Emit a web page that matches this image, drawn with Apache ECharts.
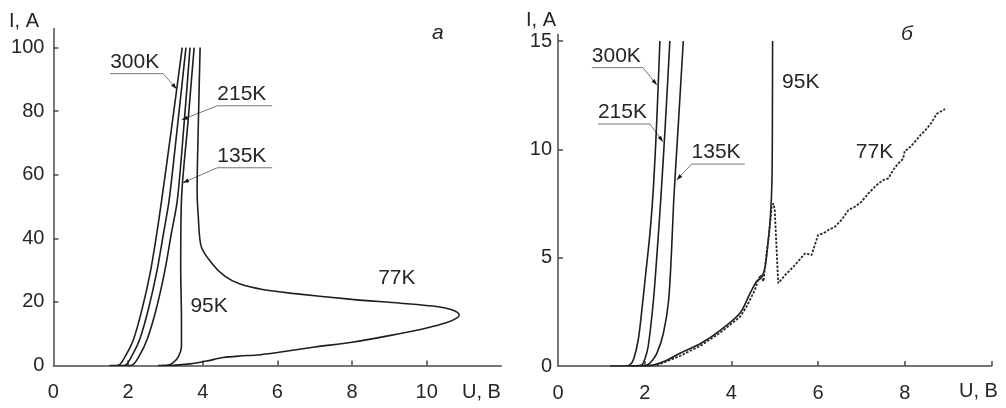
<!DOCTYPE html>
<html>
<head>
<meta charset="utf-8">
<script src="https://cdn.jsdelivr.net/npm/echarts@6/dist/echarts.min.js"></script>
<style>
html, body { margin: 0; background: #fff; }
#main { width: 1006px; height: 408px; }
</style>
</head>
<body>
<div id="main"></div>
<script>
'use strict';

// panel "а" : [U, V ; I, A]
const a300K = [[1.5, 0], [1.74, 0.1], [1.92, 2.8], [2.14, 8], [2.37, 17.5], [2.59, 29], [2.77, 41.6], [2.9, 52], [3.18, 76], [3.45, 100]];
const a215K = [[1.7, 0], [1.92, 0.1], [2.1, 3], [2.32, 8.5], [2.55, 18], [2.77, 29.5], [2.95, 41.6], [3.1, 52], [3.33, 76], [3.55, 100]];
const a135K = [[1.9, 0], [2.1, 0.1], [2.3, 3], [2.52, 8.5], [2.76, 18], [2.98, 29.5], [3.16, 41.6], [3.32, 52], [3.5, 76], [3.66, 100]];
const a95K = [[2.8, 0], [3.05, 0.1], [3.2, 0.8], [3.35, 2.8], [3.43, 6], [3.43, 15], [3.41, 30], [3.43, 52], [3.6, 76], [3.77, 100]];
const a77K = [[3.93, 100], [3.88, 75], [3.85, 55], [3.88, 47], [3.96, 37.4], [4.24, 32.2], [4.6, 28], [5.0, 25.6], [5.6, 23.9],
	[6.4, 22.7], [8.0, 20.8], [9.3, 19.6], [10.3, 18.5], [10.65, 17.6], [10.82, 16.7], [10.87, 15.9], [10.8, 14.9],
	[10.54, 13.5], [10.0, 11.8], [9.0, 9.4], [8.0, 7.3], [7.0, 5.8], [6.0, 4.1], [5.45, 3.3], [5.0, 3.0], [4.55, 2.5],
	[4.1, 1.4], [3.66, 0.5], [3.2, 0.05], [2.9, 0]];

// panel "б"
const b300K = [[1.2, 0], [1.55, 0], [1.66, 0.05], [1.75, 0.35], [1.85, 1.2], [1.93, 2.5], [2.02, 4.2], [2.12, 6.1], [2.2, 8.2], [2.28, 11.4], [2.35, 15]];
const b215K = [[1.6, 0], [1.93, 0.05], [2.0, 0.3], [2.08, 0.9], [2.2, 3.0], [2.29, 5.35], [2.37, 7.66], [2.48, 11.3], [2.58, 15]];
const b135K = [[1.7, 0], [2.05, 0.05], [2.15, 0.2], [2.28, 0.58], [2.43, 1.5], [2.55, 3.0], [2.62, 5.35], [2.67, 7.66], [2.78, 11.3], [2.89, 15]];
const b95K = [[1.9, 0], [2.2, 0.05], [2.5, 0.25], [2.8, 0.58], [3.3, 1.05], [3.75, 1.66], [4.2, 2.45], [4.43, 3.35], [4.58, 3.9],
	[4.7, 4.1], [4.78, 4.6], [4.85, 5.8], [4.9, 6.9], [4.935, 8.5], [4.945, 11], [4.95, 15]];
const b77K = [[2.0, 0], [2.3, 0.05], [2.8, 0.45], [3.3, 0.95], [3.75, 1.55], [4.2, 2.27], [4.35, 2.74], [4.54, 3.5], [4.62, 4.0],
	[4.68, 4.2], [4.74, 3.9], [4.78, 3.85], [4.81, 5.2], [4.87, 6.1], [4.93, 7.35], [4.97, 7.5], [5.0, 7.2], [5.04, 5.5],
	[5.08, 3.82], [5.12, 3.82], [5.24, 4.2], [5.43, 4.58], [5.7, 5.2], [5.85, 5.12], [6.0, 6.05], [6.12, 6.12], [6.24, 6.28],
	[6.39, 6.43], [6.54, 6.74], [6.7, 7.2], [6.85, 7.35], [7.0, 7.58], [7.16, 7.97], [7.35, 8.35], [7.5, 8.58], [7.62, 8.66],
	[7.73, 9.04], [7.84, 9.33], [7.96, 9.56], [8.0, 9.94], [8.07, 10.0], [8.19, 10.25], [8.35, 10.63], [8.5, 10.94],
	[8.62, 11.24], [8.73, 11.63], [8.93, 11.86]];

// axis ticks / labels
const xTicksA = [2, 4, 6, 8, 10];
const xLabelsA = [0, 2, 4, 6, 8, 10];
const yTicksA = [20, 40, 60, 80, 100];
const yLabelsA = [0, 20, 40, 60, 80, 100];
const xTicksB = [2, 4, 6, 8, 10];
const xLabelsB = [0, 2, 4, 6, 8];
const yTicksB = [5, 10, 15];
const yLabelsB = [0, 5, 10, 15];

// leader labels: text, grid, underline [U0, U1, I], tip [U, I], elbow side
const leaderText = ['300K', '215K', '135K', '300K', '215K', '135K'];
const leaderGrid = [0, 0, 0, 1, 1, 1];
const leaderLine = [[1.52, 2.94, 91.8], [4.39, 5.86, 81.7], [4.39, 5.86, 62.2], [0.78, 1.96, 13.77], [0.92, 2.12, 11.17], [3.08, 4.31, 9.32]];
const leaderTip = [[3.30, 87.0], [3.44, 77.3], [3.47, 57.5], [2.28, 12.97], [2.42, 10.35], [2.74, 8.58]];
const leaderSide = ['right', 'left', 'left', 'right', 'right', 'left'];

// free labels: text, grid, centre [U, I]
const noteText = ['95K', '77K', 'а', '95K', '77K', 'б'];
const noteGrid = [0, 0, 0, 1, 1, 1];
const notePos = [[4.17, 18.6], [9.2, 27.6], [10.3, 104.5], [5.6, 13.1], [7.3, 9.85], [8.05, 15.3]];

const FONT = '"Liberation Sans", Arial, sans-serif';
const INK = '#1e1e1e';
const TXT = '#262626';
const FS = 20;

const axisCommon = (ticks, labels, margin) => ({
	type: 'value',
	axisLine: { show: true, onZero: false, lineStyle: { color: '#4a4a4a', width: 1.5 } },
	axisTick: { show: true, inside: true, length: 5, customValues: ticks, lineStyle: { color: '#4a4a4a', width: 1.5 } },
	axisLabel: { customValues: labels, margin: margin, fontSize: FS, color: TXT, fontFamily: FONT },
	splitLine: { show: false }
});

const curve = (data, xi, dashed) => ({
	type: 'line',
	xAxisIndex: xi,
	yAxisIndex: xi,
	data: data,
	showSymbol: false,
	symbol: 'none',
	smooth: dashed ? false : 0.3,
	lineStyle: dashed ? { color: '#2a2a2a', width: 1.8, type: [2.5, 1.5] } : { color: INK, width: 1.6 },
	silent: true
});

const chart = echarts.init(document.getElementById('main'), null, { renderer: 'canvas' });

chart.setOption({
	animation: false,
	textStyle: { fontFamily: FONT },
	grid: [
		{ left: 53.4, top: 28.5, width: 448, height: 337 },
		{ left: 558, top: 34.5, width: 433.5, height: 331.5 }
	],
	xAxis: [
		Object.assign(axisCommon(xTicksA, xLabelsA, 17), { gridIndex: 0, min: 0, max: 12 }),
		Object.assign(axisCommon(xTicksB, xLabelsB, 17), { gridIndex: 1, min: 0, max: 10 })
	],
	yAxis: [
		Object.assign(axisCommon(yTicksA, yLabelsA, 9), { gridIndex: 0, min: 0, max: 106 }),
		Object.assign(axisCommon(yTicksB, yLabelsB, 6), { gridIndex: 1, min: 0, max: 15.3 })
	],
	series: [
		curve(a300K, 0), curve(a215K, 0), curve(a135K, 0), curve(a95K, 0), curve(a77K, 0),
		curve(b300K, 1), curve(b215K, 1), curve(b135K, 1), curve(b95K, 1), curve(b77K, 1, true)
	]
});

// annotations placed through the axes
const toPx = (g, p) => chart.convertToPixel({ gridIndex: g }, p);
const els = [];

leaderText.forEach((txt, k) => {
	const g = leaderGrid[k];
	const [u0, u1, i] = leaderLine[k];
	const p0 = toPx(g, [u0, i]);
	const p1 = toPx(g, [u1, i]);
	const tip = toPx(g, leaderTip[k]);
	const elbow = leaderSide[k] === 'right' ? p1 : p0;
	els.push({
		type: 'polyline',
		shape: { points: [p0, p1] },
		style: { stroke: '#777', lineWidth: 1, fill: null }
	});
	els.push({
		type: 'polyline',
		shape: { points: [elbow, tip] },
		style: { stroke: '#777', lineWidth: 1, fill: null }
	});
	// arrow head
	const dx = tip[0] - elbow[0], dy = tip[1] - elbow[1];
	const len = Math.hypot(dx, dy), ux = dx / len, uy = dy / len;
	const bx = tip[0] - ux * 6, by = tip[1] - uy * 6;
	els.push({
		type: 'polygon',
		shape: { points: [tip, [bx - uy * 2, by + ux * 2], [bx + uy * 2, by - ux * 2]] },
		style: { fill: '#111' }
	});
	els.push({
		type: 'text',
		x: p0[0],
		y: p0[1] - 1,
		style: { text: txt, font: '21px ' + FONT, fill: TXT, textAlign: 'left', textVerticalAlign: 'bottom' }
	});
});

noteText.forEach((txt, k) => {
	const p = toPx(noteGrid[k], notePos[k]);
	const italic = txt === 'а' || txt === 'б';
	els.push({
		type: 'text',
		x: p[0],
		y: p[1],
		style: {
			text: txt,
			font: (italic ? 'italic ' : '') + '21px ' + FONT,
			fill: TXT,
			textAlign: 'center',
			textVerticalAlign: 'middle'
		}
	});
});

// axis names
els.push({ type: 'text', x: 9, y: 21, style: { text: 'I, A', font: FS + 'px ' + FONT, fill: TXT, textVerticalAlign: 'middle' } });
els.push({ type: 'text', x: 526, y: 20, style: { text: 'I, A', font: FS + 'px ' + FONT, fill: TXT, textVerticalAlign: 'middle' } });
els.push({ type: 'text', x: 462, y: 392, style: { text: 'U, B', font: FS + 'px ' + FONT, fill: TXT, textVerticalAlign: 'middle' } });
els.push({ type: 'text', x: 959, y: 391, style: { text: 'U, B', font: FS + 'px ' + FONT, fill: TXT, textVerticalAlign: 'middle' } });

chart.setOption({ graphic: { elements: els } });
</script>
</body>
</html>
